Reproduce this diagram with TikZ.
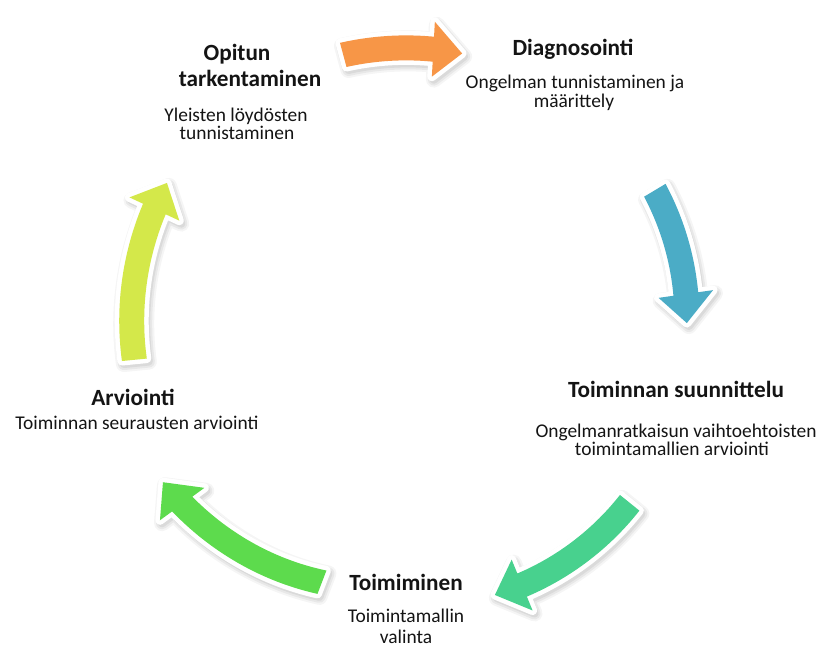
\documentclass[tikz,border=0pt]{standalone}
\usepackage{fontspec}
\setmainfont{Carlito}
\begin{document}
\begin{tikzpicture}[x=1bp,y=-1bp,
  ttl/.style={font=\fontsize{23.3}{27}\selectfont\bfseries, anchor=base, inner sep=0pt, text=black!92},
  sub/.style={font=\fontsize{19.5}{20}\selectfont, anchor=base, inner sep=0pt, text=black!92},
  arrowbody/.style={preaction={draw=white, line width=9bp, line join=round}},
  arrowshade/.style={draw=black, fill=black, line join=round, shift={(2,3)}}]
\definecolor{cOrange}{RGB}{247,150,71}
\definecolor{cBlue}{RGB}{75,172,198}
\definecolor{cTeal}{RGB}{72,209,142}
\definecolor{cGreen}{RGB}{93,219,77}
\definecolor{cLime}{RGB}{212,232,74}
\useasboundingbox (0,0) rectangle (819,648);
\fill[white] (0,0) rectangle (819,648);
% centre of the cycle, body half width, head half width, head length
\def\cx{418}\def\cy{332}\def\bw{12.5}\def\hw{27.5}\def\hl{29}
% radius along an arrow, interpolated between tail and tip
\def\rad#1{(\arR+(\arS-(\arR))*((#1)-(\arA))/((\arB)-(\arA)))}
\def\arrowshape{%
  plot[domain=\arA:\arH, samples=30, variable=\t]
    ({\cx+(\rad{\t}+\bw)*cos(\t)}, {\cy-(\rad{\t}+\bw)*sin(\t)})
  -- ({\cx+(\arRH+\hw)*cos(\arH)}, {\cy-(\arRH+\hw)*sin(\arH)})
  -- ({\cx+\arS*cos(\arB)}, {\cy-\arS*sin(\arB)})
  -- ({\cx+(\arRH-\hw)*cos(\arH)}, {\cy-(\arRH-\hw)*sin(\arH)})
  -- plot[domain=\arH:\arA, samples=30, variable=\t]
    ({\cx+(\rad{\t}-\bw)*cos(\t)}, {\cy-(\rad{\t}-\bw)*sin(\t)})
  -- cycle}
% #1 tail angle, #2 tail radius, #3 tip angle, #4 tip radius, #5 colour
\newcommand\cycarrow[5]{%
  \pgfmathsetmacro\arA{#1}%
  \pgfmathsetmacro\arR{#2}%
  \pgfmathsetmacro\arB{#3}%
  \pgfmathsetmacro\arS{#4}%
  \pgfmathsetmacro\arH{\arB+\hl/\arS*57.2958}%
  \pgfmathsetmacro\arRH{\arR+(\arS-(\arR))*(\arH-(\arA))/(\arB-(\arA))}%
  \foreach \lw/\op in {16/0.04,12/0.05,8/0.06}
    \path[arrowshade, line width=\lw bp, opacity=\op] \arrowshape;
  \path[arrowbody, fill=#5] \arrowshape;
}
\cycarrow{105.1}{287}{81.0}{282}{cOrange}
\cycarrow{30.9}{276}{1.9}{269}{cBlue}
\cycarrow{-38.9}{272}{-73.7}{274}{cTeal}
\cycarrow{-111}{268}{-149.5}{296}{cGreen}
\cycarrow{185.6}{285}{149.3}{292}{cLime}

% texts of the five steps
\node[ttl] (t1a) at (237,61) {Opitun};
\node[ttl] (t1b) at (250,87) {tarkentaminen};
\node[sub] (s1a) at (236,122) {Yleisten löydösten};
\node[sub] (s1b) at (237,140) {tunnistaminen};

\node[ttl] (t2) at (573,56) {Diagnosointi};
\node[sub] (s2a) at (575,89) {Ongelman tunnistaminen ja};
\node[sub] (s2b) at (574,108) {määrittely};

\node[ttl] (t3) at (676,397) {Toiminnan suunnittelu};
\node[sub] (s3a) at (676,437) {Ongelmanratkaisun vaihtoehtoisten};
\node[sub] (s3b) at (672,455) {toimintamallien arviointi};

\node[ttl] (t4) at (406,590) {Toimiminen};
\node[sub] (s4a) at (406,622.5) {Toimintamallin};
\node[sub] (s4b) at (406,643) {valinta};

\node[ttl] (t5) at (133,405) {Arviointi};
\node[sub] (s5) at (137,429) {Toiminnan seurausten arviointi};
\end{tikzpicture}
\end{document}
